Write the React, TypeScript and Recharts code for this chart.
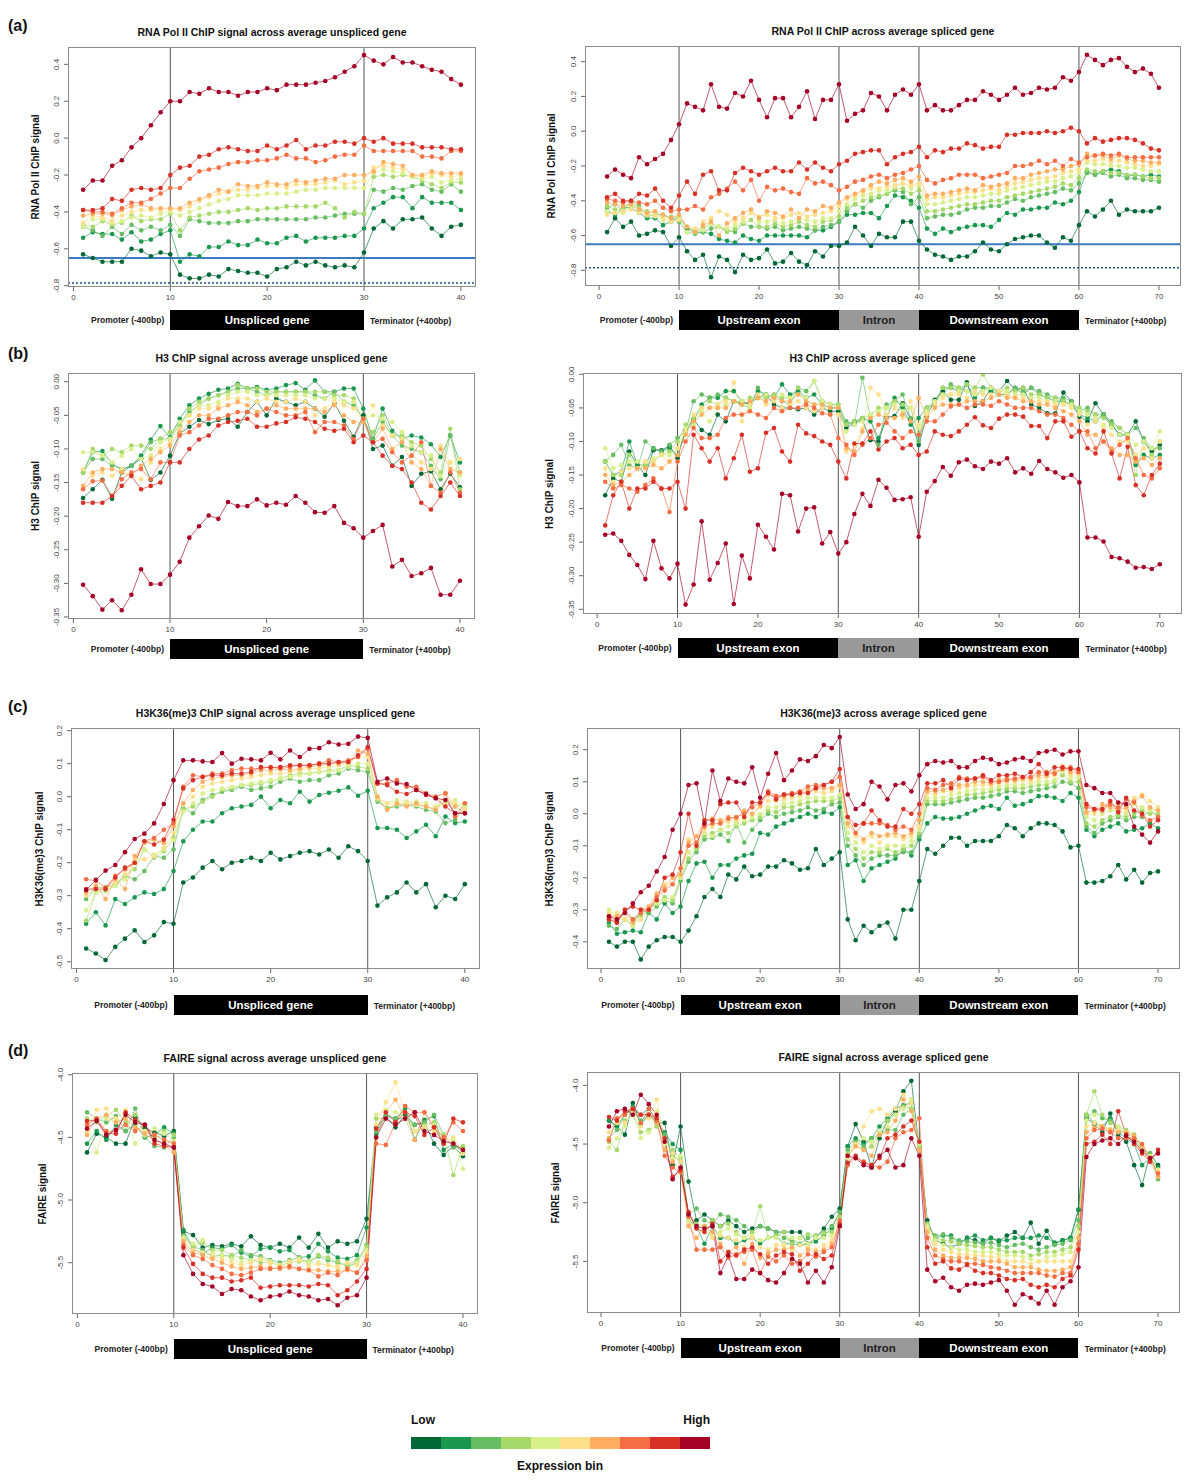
import { LineChart, Line, XAxis, YAxis, ReferenceLine } from "recharts";

// expression bins, low -> high
const binColors = ["#006837", "#1a9850", "#66bd63", "#a6d96a", "#d9ef8b", "#fee08b", "#fdae61", "#f46d43", "#d73027", "#a50026"];

const xTicks40 = [0, 10, 20, 30, 40];
const xTicks70 = [0, 10, 20, 30, 40, 50, 60, 70];
const polTicks = [-0.8, -0.6, -0.4, -0.2, 0, 0.2, 0.4];
const h3Ticks = [-0.35, -0.3, -0.25, -0.2, -0.15, -0.1, -0.05, 0];
const k36TicksU = [-0.5, -0.4, -0.3, -0.2, -0.1, 0, 0.1, 0.2];
const k36TicksS = [-0.4, -0.3, -0.2, -0.1, 0, 0.1, 0.2];
const faireTicks = [-5.5, -5.0, -4.5, -4.0];

// (a) RNA Pol II, unspliced (bins 1..10)
const polUnspliced: number[][] = [
  [-0.63,-0.65,-0.67,-0.67,-0.67,-0.60,-0.61,-0.64,-0.62,-0.63,-0.74,-0.76,-0.76,-0.74,-0.75,-0.71,-0.72,-0.73,-0.73,-0.75,-0.71,-0.70,-0.67,-0.69,-0.67,-0.69,-0.70,-0.69,-0.70,-0.62,-0.49,-0.45,-0.49,-0.44,-0.44,-0.43,-0.49,-0.53,-0.48,-0.47],
  [-0.54,-0.51,-0.52,-0.52,-0.55,-0.51,-0.56,-0.55,-0.52,-0.50,-0.67,-0.63,-0.64,-0.59,-0.59,-0.56,-0.58,-0.58,-0.55,-0.57,-0.57,-0.54,-0.53,-0.56,-0.54,-0.54,-0.54,-0.53,-0.53,-0.49,-0.38,-0.35,-0.32,-0.32,-0.38,-0.32,-0.35,-0.35,-0.35,-0.39],
  [-0.48,-0.50,-0.53,-0.48,-0.52,-0.47,-0.50,-0.48,-0.50,-0.47,-0.53,-0.44,-0.45,-0.46,-0.46,-0.46,-0.45,-0.45,-0.44,-0.44,-0.44,-0.44,-0.44,-0.44,-0.43,-0.43,-0.42,-0.41,-0.41,-0.41,-0.28,-0.29,-0.27,-0.28,-0.26,-0.25,-0.28,-0.29,-0.25,-0.29],
  [-0.47,-0.48,-0.45,-0.47,-0.46,-0.42,-0.45,-0.44,-0.44,-0.41,-0.50,-0.43,-0.42,-0.41,-0.40,-0.40,-0.39,-0.38,-0.39,-0.38,-0.38,-0.37,-0.37,-0.37,-0.37,-0.35,-0.38,-0.43,-0.40,-0.41,-0.21,-0.20,-0.21,-0.20,-0.21,-0.23,-0.25,-0.27,-0.24,-0.24],
  [-0.48,-0.44,-0.44,-0.46,-0.45,-0.43,-0.42,-0.43,-0.41,-0.40,-0.42,-0.40,-0.38,-0.36,-0.34,-0.33,-0.31,-0.31,-0.31,-0.30,-0.30,-0.30,-0.29,-0.28,-0.28,-0.27,-0.27,-0.27,-0.27,-0.27,-0.19,-0.17,-0.18,-0.19,-0.21,-0.22,-0.21,-0.24,-0.23,-0.22],
  [-0.46,-0.42,-0.43,-0.45,-0.42,-0.40,-0.39,-0.39,-0.39,-0.39,-0.39,-0.37,-0.34,-0.32,-0.30,-0.29,-0.28,-0.28,-0.27,-0.26,-0.26,-0.27,-0.25,-0.25,-0.25,-0.24,-0.23,-0.25,-0.24,-0.23,-0.16,-0.15,-0.16,-0.17,-0.20,-0.21,-0.19,-0.20,-0.21,-0.20],
  [-0.42,-0.41,-0.41,-0.42,-0.39,-0.37,-0.36,-0.38,-0.38,-0.38,-0.38,-0.35,-0.33,-0.31,-0.28,-0.29,-0.25,-0.26,-0.26,-0.24,-0.25,-0.25,-0.23,-0.24,-0.23,-0.22,-0.22,-0.20,-0.20,-0.20,-0.18,-0.13,-0.14,-0.15,-0.20,-0.20,-0.18,-0.19,-0.19,-0.19],
  [-0.39,-0.40,-0.40,-0.41,-0.38,-0.35,-0.35,-0.33,-0.30,-0.27,-0.27,-0.22,-0.18,-0.17,-0.16,-0.14,-0.13,-0.13,-0.12,-0.12,-0.11,-0.09,-0.11,-0.11,-0.13,-0.12,-0.10,-0.09,-0.09,-0.04,-0.07,-0.07,-0.07,-0.07,-0.07,-0.10,-0.10,-0.11,-0.07,-0.07],
  [-0.39,-0.39,-0.38,-0.33,-0.34,-0.28,-0.27,-0.28,-0.27,-0.20,-0.16,-0.15,-0.10,-0.09,-0.06,-0.05,-0.06,-0.07,-0.07,-0.04,-0.06,-0.04,-0.01,-0.06,-0.04,-0.04,-0.02,-0.02,-0.03,0.00,-0.02,0.00,-0.03,-0.03,-0.03,-0.05,-0.05,-0.05,-0.06,-0.06],
  [-0.28,-0.23,-0.23,-0.15,-0.12,-0.05,0.00,0.07,0.14,0.20,0.20,0.25,0.24,0.27,0.25,0.25,0.23,0.25,0.25,0.27,0.26,0.29,0.29,0.29,0.30,0.31,0.33,0.36,0.39,0.45,0.42,0.40,0.44,0.41,0.41,0.39,0.37,0.36,0.32,0.29],
];

// (a) RNA Pol II, spliced
const polSpliced: number[][] = [
  [-0.58,-0.50,-0.55,-0.52,-0.60,-0.59,-0.57,-0.58,-0.66,-0.61,-0.69,-0.74,-0.71,-0.84,-0.72,-0.74,-0.81,-0.71,-0.74,-0.73,-0.68,-0.76,-0.75,-0.70,-0.75,-0.77,-0.69,-0.72,-0.66,-0.66,-0.64,-0.55,-0.60,-0.66,-0.59,-0.61,-0.61,-0.52,-0.52,-0.63,-0.68,-0.71,-0.72,-0.74,-0.72,-0.72,-0.69,-0.64,-0.68,-0.69,-0.65,-0.62,-0.61,-0.60,-0.60,-0.64,-0.67,-0.61,-0.63,-0.54,-0.46,-0.49,-0.45,-0.40,-0.48,-0.45,-0.46,-0.46,-0.46,-0.44],
  [-0.46,-0.48,-0.44,-0.44,-0.47,-0.50,-0.50,-0.54,-0.52,-0.49,-0.56,-0.58,-0.58,-0.59,-0.62,-0.63,-0.64,-0.60,-0.62,-0.63,-0.60,-0.60,-0.60,-0.60,-0.60,-0.61,-0.57,-0.57,-0.55,-0.52,-0.48,-0.48,-0.47,-0.47,-0.50,-0.43,-0.37,-0.38,-0.40,-0.44,-0.56,-0.59,-0.56,-0.58,-0.56,-0.55,-0.54,-0.54,-0.55,-0.51,-0.47,-0.48,-0.45,-0.45,-0.44,-0.44,-0.41,-0.42,-0.40,-0.35,-0.23,-0.25,-0.23,-0.22,-0.23,-0.26,-0.25,-0.26,-0.25,-0.26],
  [-0.44,-0.42,-0.46,-0.40,-0.43,-0.49,-0.48,-0.48,-0.50,-0.52,-0.58,-0.59,-0.58,-0.56,-0.55,-0.57,-0.58,-0.53,-0.55,-0.55,-0.56,-0.55,-0.57,-0.56,-0.55,-0.56,-0.57,-0.55,-0.54,-0.52,-0.46,-0.42,-0.44,-0.40,-0.38,-0.36,-0.34,-0.35,-0.42,-0.38,-0.50,-0.49,-0.48,-0.48,-0.47,-0.45,-0.44,-0.44,-0.43,-0.43,-0.41,-0.39,-0.40,-0.38,-0.37,-0.36,-0.35,-0.33,-0.34,-0.30,-0.24,-0.25,-0.24,-0.26,-0.25,-0.27,-0.27,-0.28,-0.28,-0.29],
  [-0.43,-0.45,-0.45,-0.41,-0.44,-0.46,-0.47,-0.49,-0.49,-0.50,-0.55,-0.57,-0.56,-0.53,-0.55,-0.58,-0.56,-0.53,-0.51,-0.55,-0.55,-0.53,-0.55,-0.54,-0.52,-0.54,-0.55,-0.52,-0.51,-0.49,-0.44,-0.42,-0.40,-0.38,-0.37,-0.36,-0.33,-0.33,-0.36,-0.34,-0.46,-0.46,-0.45,-0.44,-0.43,-0.42,-0.42,-0.41,-0.40,-0.40,-0.38,-0.37,-0.36,-0.35,-0.34,-0.33,-0.32,-0.30,-0.31,-0.27,-0.22,-0.23,-0.23,-0.24,-0.24,-0.25,-0.25,-0.26,-0.27,-0.27],
  [-0.46,-0.47,-0.47,-0.43,-0.45,-0.48,-0.49,-0.51,-0.50,-0.49,-0.58,-0.58,-0.57,-0.53,-0.55,-0.56,-0.54,-0.52,-0.47,-0.52,-0.52,-0.51,-0.53,-0.52,-0.50,-0.51,-0.52,-0.50,-0.50,-0.46,-0.42,-0.39,-0.37,-0.36,-0.34,-0.34,-0.32,-0.30,-0.33,-0.31,-0.42,-0.42,-0.41,-0.40,-0.39,-0.38,-0.38,-0.37,-0.36,-0.36,-0.34,-0.33,-0.32,-0.31,-0.30,-0.29,-0.29,-0.27,-0.26,-0.24,-0.18,-0.19,-0.19,-0.20,-0.20,-0.21,-0.21,-0.22,-0.23,-0.23],
  [-0.48,-0.47,-0.46,-0.45,-0.47,-0.48,-0.48,-0.50,-0.52,-0.51,-0.55,-0.56,-0.52,-0.50,-0.46,-0.48,-0.52,-0.50,-0.47,-0.49,-0.48,-0.50,-0.50,-0.48,-0.47,-0.49,-0.48,-0.47,-0.46,-0.43,-0.39,-0.37,-0.35,-0.33,-0.33,-0.32,-0.31,-0.30,-0.31,-0.30,-0.39,-0.38,-0.38,-0.37,-0.36,-0.35,-0.35,-0.34,-0.33,-0.34,-0.32,-0.30,-0.29,-0.28,-0.27,-0.27,-0.26,-0.24,-0.23,-0.22,-0.17,-0.17,-0.16,-0.18,-0.17,-0.18,-0.19,-0.20,-0.20,-0.19],
  [-0.41,-0.42,-0.43,-0.42,-0.45,-0.47,-0.46,-0.48,-0.50,-0.48,-0.55,-0.58,-0.54,-0.52,-0.60,-0.53,-0.50,-0.47,-0.45,-0.50,-0.46,-0.47,-0.49,-0.45,-0.50,-0.45,-0.46,-0.43,-0.44,-0.41,-0.38,-0.36,-0.34,-0.31,-0.29,-0.30,-0.28,-0.27,-0.29,-0.26,-0.37,-0.36,-0.36,-0.35,-0.34,-0.33,-0.34,-0.31,-0.32,-0.31,-0.30,-0.27,-0.27,-0.25,-0.24,-0.23,-0.22,-0.22,-0.20,-0.19,-0.13,-0.14,-0.14,-0.16,-0.14,-0.16,-0.17,-0.17,-0.18,-0.18],
  [-0.39,-0.40,-0.41,-0.40,-0.41,-0.42,-0.40,-0.44,-0.46,-0.45,-0.45,-0.43,-0.45,-0.38,-0.36,-0.33,-0.29,-0.34,-0.28,-0.40,-0.32,-0.34,-0.33,-0.35,-0.36,-0.27,-0.30,-0.29,-0.31,-0.34,-0.32,-0.29,-0.28,-0.26,-0.25,-0.27,-0.25,-0.24,-0.22,-0.20,-0.28,-0.30,-0.28,-0.27,-0.25,-0.25,-0.25,-0.27,-0.26,-0.25,-0.24,-0.20,-0.20,-0.19,-0.17,-0.19,-0.17,-0.20,-0.16,-0.18,-0.15,-0.14,-0.13,-0.14,-0.13,-0.15,-0.15,-0.15,-0.15,-0.15],
  [-0.38,-0.36,-0.40,-0.40,-0.36,-0.37,-0.33,-0.40,-0.44,-0.37,-0.29,-0.36,-0.25,-0.23,-0.34,-0.34,-0.24,-0.21,-0.23,-0.25,-0.23,-0.21,-0.23,-0.23,-0.18,-0.22,-0.18,-0.21,-0.23,-0.19,-0.17,-0.13,-0.12,-0.11,-0.11,-0.19,-0.15,-0.13,-0.12,-0.09,-0.15,-0.11,-0.12,-0.10,-0.10,-0.07,-0.08,-0.10,-0.09,-0.09,-0.02,-0.02,-0.01,-0.01,-0.01,0.00,-0.01,0.00,0.02,0.00,-0.07,-0.04,-0.06,-0.05,-0.04,-0.04,-0.05,-0.07,-0.10,-0.11],
  [-0.26,-0.22,-0.25,-0.27,-0.15,-0.19,-0.16,-0.13,-0.05,0.04,0.16,0.14,0.12,0.27,0.14,0.13,0.22,0.20,0.29,0.18,0.08,0.19,0.19,0.08,0.14,0.23,0.07,0.18,0.18,0.27,0.06,0.10,0.12,0.22,0.20,0.12,0.21,0.24,0.21,0.27,0.12,0.15,0.12,0.12,0.15,0.18,0.18,0.23,0.21,0.18,0.21,0.25,0.21,0.22,0.25,0.24,0.25,0.31,0.29,0.34,0.44,0.41,0.38,0.41,0.42,0.37,0.34,0.36,0.33,0.25],
];

// (b) H3, unspliced
const h3Unspliced: number[][] = [
  [-0.173,-0.16,-0.146,-0.174,-0.135,-0.125,-0.114,-0.146,-0.135,-0.11,-0.077,-0.067,-0.057,-0.063,-0.057,-0.055,-0.067,-0.045,-0.03,-0.05,-0.025,-0.03,-0.035,-0.03,-0.04,-0.052,-0.032,-0.058,-0.082,-0.05,-0.1,-0.095,-0.125,-0.112,-0.155,-0.137,-0.133,-0.16,-0.137,-0.157],
  [-0.135,-0.105,-0.103,-0.122,-0.13,-0.125,-0.11,-0.086,-0.066,-0.083,-0.055,-0.035,-0.025,-0.018,-0.012,-0.01,-0.003,-0.01,-0.008,-0.012,-0.01,-0.005,-0.002,-0.012,0.002,-0.015,-0.015,-0.01,-0.01,-0.04,-0.085,-0.04,-0.073,-0.085,-0.08,-0.083,-0.093,-0.112,-0.08,-0.12],
  [-0.135,-0.115,-0.115,-0.125,-0.13,-0.125,-0.115,-0.09,-0.085,-0.085,-0.065,-0.045,-0.035,-0.025,-0.02,-0.015,-0.01,-0.01,-0.015,-0.02,-0.015,-0.015,-0.015,-0.015,-0.02,-0.025,-0.015,-0.03,-0.035,-0.055,-0.085,-0.06,-0.08,-0.095,-0.1,-0.105,-0.125,-0.145,-0.08,-0.135],
  [-0.135,-0.1,-0.11,-0.1,-0.105,-0.095,-0.095,-0.1,-0.085,-0.075,-0.065,-0.04,-0.03,-0.025,-0.02,-0.015,-0.005,-0.01,-0.01,-0.015,-0.015,-0.015,-0.015,-0.015,-0.015,-0.015,-0.02,-0.02,-0.025,-0.06,-0.075,-0.05,-0.08,-0.08,-0.09,-0.095,-0.115,-0.135,-0.07,-0.16],
  [-0.105,-0.105,-0.11,-0.12,-0.11,-0.1,-0.115,-0.11,-0.09,-0.085,-0.06,-0.05,-0.035,-0.035,-0.03,-0.02,-0.015,-0.015,-0.02,-0.02,-0.02,-0.02,-0.02,-0.02,-0.025,-0.025,-0.025,-0.03,-0.03,-0.055,-0.05,-0.055,-0.06,-0.075,-0.095,-0.105,-0.11,-0.14,-0.12,-0.14],
  [-0.13,-0.14,-0.135,-0.14,-0.13,-0.14,-0.145,-0.12,-0.1,-0.09,-0.07,-0.05,-0.04,-0.04,-0.035,-0.025,-0.025,-0.025,-0.03,-0.025,-0.03,-0.03,-0.025,-0.03,-0.05,-0.04,-0.03,-0.035,-0.04,-0.06,-0.035,-0.065,-0.08,-0.085,-0.11,-0.12,-0.13,-0.095,-0.12,-0.115],
  [-0.155,-0.135,-0.13,-0.13,-0.135,-0.14,-0.125,-0.115,-0.105,-0.095,-0.075,-0.06,-0.05,-0.05,-0.04,-0.035,-0.03,-0.035,-0.045,-0.04,-0.035,-0.04,-0.04,-0.04,-0.04,-0.045,-0.035,-0.05,-0.06,-0.06,-0.09,-0.07,-0.1,-0.09,-0.12,-0.13,-0.155,-0.1,-0.13,-0.135],
  [-0.16,-0.148,-0.147,-0.17,-0.145,-0.135,-0.13,-0.145,-0.12,-0.12,-0.08,-0.075,-0.065,-0.055,-0.055,-0.05,-0.045,-0.045,-0.05,-0.04,-0.045,-0.05,-0.05,-0.045,-0.075,-0.06,-0.06,-0.065,-0.085,-0.055,-0.09,-0.085,-0.105,-0.12,-0.11,-0.09,-0.155,-0.165,-0.135,-0.165],
  [-0.18,-0.18,-0.18,-0.17,-0.155,-0.14,-0.16,-0.155,-0.15,-0.12,-0.12,-0.1,-0.086,-0.08,-0.065,-0.06,-0.058,-0.055,-0.067,-0.067,-0.062,-0.06,-0.053,-0.055,-0.06,-0.07,-0.073,-0.07,-0.09,-0.08,-0.09,-0.11,-0.125,-0.13,-0.15,-0.18,-0.19,-0.17,-0.15,-0.17],
  [-0.302,-0.319,-0.339,-0.325,-0.34,-0.317,-0.279,-0.301,-0.301,-0.287,-0.268,-0.232,-0.215,-0.199,-0.204,-0.179,-0.185,-0.185,-0.175,-0.184,-0.18,-0.183,-0.17,-0.18,-0.194,-0.195,-0.185,-0.21,-0.218,-0.232,-0.222,-0.213,-0.275,-0.265,-0.289,-0.285,-0.277,-0.317,-0.317,-0.296],
];

// (b) H3, spliced
const h3Spliced: number[][] = [
  [-0.18,-0.155,-0.16,-0.115,-0.135,-0.15,-0.113,-0.113,-0.107,-0.125,-0.083,-0.067,-0.083,-0.09,-0.06,-0.07,-0.04,-0.043,-0.043,-0.035,-0.03,-0.045,-0.05,-0.05,-0.052,-0.05,-0.06,-0.05,-0.055,-0.055,-0.08,-0.072,-0.068,-0.098,-0.1,-0.064,-0.062,-0.043,-0.067,-0.105,-0.063,-0.038,-0.025,-0.038,-0.038,-0.012,-0.047,-0.04,-0.02,-0.025,-0.01,-0.023,-0.02,-0.045,-0.05,-0.058,-0.058,-0.027,-0.04,-0.063,-0.07,-0.043,-0.06,-0.075,-0.09,-0.09,-0.07,-0.1,-0.115,-0.105],
  [-0.13,-0.15,-0.145,-0.1,-0.135,-0.135,-0.11,-0.115,-0.11,-0.12,-0.085,-0.07,-0.045,-0.035,-0.035,-0.025,-0.025,-0.04,-0.045,-0.025,-0.03,-0.035,-0.015,-0.03,-0.025,-0.035,-0.03,-0.045,-0.05,-0.05,-0.075,-0.07,-0.065,-0.07,-0.095,-0.065,-0.035,-0.05,-0.075,-0.065,-0.05,-0.045,-0.02,-0.02,-0.025,-0.015,-0.035,-0.02,-0.025,-0.03,-0.03,-0.02,-0.03,-0.02,-0.03,-0.035,-0.04,-0.04,-0.045,-0.06,-0.065,-0.07,-0.06,-0.075,-0.09,-0.09,-0.135,-0.12,-0.125,-0.12],
  [-0.13,-0.12,-0.105,-0.135,-0.14,-0.1,-0.11,-0.115,-0.105,-0.095,-0.085,-0.04,-0.03,-0.035,-0.03,-0.035,-0.04,-0.045,-0.05,-0.02,-0.035,-0.03,-0.04,-0.045,-0.02,-0.025,-0.01,-0.04,-0.045,-0.045,-0.07,-0.075,-0.005,-0.065,-0.105,-0.045,-0.04,-0.03,-0.065,-0.1,-0.05,-0.04,-0.03,-0.015,-0.02,-0.025,-0.02,-0.02,-0.02,-0.03,-0.03,-0.02,-0.025,-0.02,-0.025,-0.03,-0.035,-0.035,-0.04,-0.055,-0.05,-0.06,-0.06,-0.07,-0.08,-0.09,-0.08,-0.095,-0.11,-0.11],
  [-0.13,-0.15,-0.15,-0.12,-0.14,-0.135,-0.13,-0.12,-0.115,-0.1,-0.075,-0.065,-0.05,-0.04,-0.045,-0.035,-0.04,-0.04,-0.035,-0.035,-0.035,-0.03,-0.035,-0.035,-0.02,-0.04,-0.045,-0.04,-0.045,-0.045,-0.075,-0.07,-0.065,-0.06,-0.05,-0.05,-0.04,-0.045,-0.05,-0.09,-0.05,-0.04,-0.02,-0.02,-0.02,-0.015,-0.02,0.0,-0.02,-0.025,-0.02,-0.025,-0.02,-0.03,-0.03,-0.035,-0.035,-0.04,-0.045,-0.05,-0.055,-0.06,-0.065,-0.075,-0.08,-0.09,-0.15,-0.1,-0.12,-0.1],
  [-0.11,-0.14,-0.135,-0.13,-0.13,-0.13,-0.125,-0.12,-0.12,-0.11,-0.08,-0.075,-0.055,-0.07,-0.05,-0.045,-0.04,-0.04,-0.05,-0.035,-0.03,-0.035,-0.03,-0.035,-0.03,-0.035,-0.01,-0.04,-0.045,-0.05,-0.085,-0.075,-0.07,-0.06,-0.055,-0.05,-0.045,-0.055,-0.05,-0.08,-0.055,-0.04,-0.03,-0.03,-0.025,-0.025,-0.03,-0.025,-0.02,-0.025,-0.025,-0.03,-0.03,-0.035,-0.035,-0.04,-0.04,-0.045,-0.045,-0.055,-0.06,-0.065,-0.075,-0.08,-0.09,-0.09,-0.105,-0.1,-0.11,-0.085],
  [-0.14,-0.16,-0.145,-0.14,-0.14,-0.13,-0.13,-0.12,-0.13,-0.11,-0.085,-0.06,-0.05,-0.05,-0.045,-0.04,-0.012,-0.07,-0.045,-0.03,-0.045,-0.04,-0.05,-0.045,-0.04,-0.05,-0.055,-0.05,-0.06,-0.06,-0.115,-0.105,-0.08,-0.02,-0.03,-0.06,-0.05,-0.065,-0.04,-0.075,-0.06,-0.045,-0.035,-0.03,-0.03,-0.035,-0.025,-0.03,-0.03,-0.025,-0.03,-0.035,-0.035,-0.04,-0.04,-0.04,-0.045,-0.045,-0.05,-0.06,-0.075,-0.07,-0.08,-0.09,-0.1,-0.1,-0.12,-0.11,-0.125,-0.1],
  [-0.15,-0.165,-0.16,-0.15,-0.14,-0.14,-0.135,-0.14,-0.13,-0.12,-0.09,-0.07,-0.06,-0.05,-0.05,-0.05,-0.04,-0.045,-0.04,-0.035,-0.04,-0.035,-0.04,-0.04,-0.03,-0.04,-0.045,-0.045,-0.05,-0.05,-0.11,-0.115,-0.085,-0.065,-0.06,-0.065,-0.065,-0.06,-0.07,-0.035,-0.065,-0.05,-0.045,-0.045,-0.045,-0.04,-0.04,-0.04,-0.035,-0.03,-0.035,-0.035,-0.04,-0.04,-0.045,-0.045,-0.05,-0.055,-0.06,-0.07,-0.09,-0.09,-0.1,-0.11,-0.12,-0.12,-0.13,-0.125,-0.135,-0.125],
  [-0.16,-0.17,-0.165,-0.17,-0.175,-0.165,-0.155,-0.17,-0.205,-0.13,-0.1,-0.08,-0.095,-0.095,-0.09,-0.065,-0.06,-0.06,-0.055,-0.06,-0.065,-0.05,-0.055,-0.05,-0.05,-0.045,-0.05,-0.058,-0.06,-0.095,-0.105,-0.12,-0.105,-0.095,-0.075,-0.072,-0.085,-0.095,-0.085,-0.09,-0.07,-0.07,-0.06,-0.048,-0.045,-0.05,-0.045,-0.045,-0.047,-0.04,-0.045,-0.05,-0.05,-0.05,-0.055,-0.06,-0.06,-0.065,-0.075,-0.085,-0.085,-0.11,-0.1,-0.115,-0.105,-0.095,-0.125,-0.15,-0.155,-0.14],
  [-0.225,-0.18,-0.16,-0.2,-0.17,-0.17,-0.16,-0.17,-0.17,-0.16,-0.2,-0.09,-0.11,-0.13,-0.11,-0.155,-0.125,-0.09,-0.145,-0.14,-0.087,-0.08,-0.115,-0.13,-0.075,-0.088,-0.092,-0.1,-0.105,-0.13,-0.155,-0.103,-0.103,-0.085,-0.112,-0.1,-0.095,-0.11,-0.105,-0.12,-0.115,-0.085,-0.09,-0.092,-0.085,-0.075,-0.064,-0.076,-0.08,-0.066,-0.06,-0.06,-0.063,-0.077,-0.077,-0.095,-0.07,-0.07,-0.093,-0.085,-0.11,-0.118,-0.085,-0.118,-0.155,-0.108,-0.165,-0.18,-0.15,-0.133],
  [-0.239,-0.237,-0.248,-0.269,-0.284,-0.305,-0.248,-0.289,-0.304,-0.282,-0.343,-0.313,-0.219,-0.306,-0.281,-0.252,-0.342,-0.27,-0.304,-0.224,-0.242,-0.261,-0.178,-0.18,-0.234,-0.2,-0.198,-0.252,-0.235,-0.267,-0.25,-0.208,-0.178,-0.196,-0.157,-0.169,-0.187,-0.186,-0.183,-0.242,-0.175,-0.159,-0.138,-0.151,-0.131,-0.127,-0.137,-0.141,-0.13,-0.133,-0.125,-0.146,-0.14,-0.148,-0.129,-0.141,-0.146,-0.154,-0.15,-0.161,-0.243,-0.243,-0.249,-0.272,-0.274,-0.279,-0.288,-0.287,-0.29,-0.283],
];

// (c) H3K36(me)3, unspliced
const k36Unspliced: number[][] = [
  [-0.46,-0.475,-0.495,-0.455,-0.43,-0.405,-0.44,-0.42,-0.38,-0.385,-0.26,-0.245,-0.215,-0.195,-0.22,-0.2,-0.195,-0.185,-0.195,-0.17,-0.19,-0.18,-0.17,-0.165,-0.175,-0.16,-0.185,-0.15,-0.165,-0.195,-0.33,-0.305,-0.29,-0.26,-0.29,-0.265,-0.335,-0.3,-0.31,-0.265],
  [-0.385,-0.35,-0.39,-0.31,-0.325,-0.305,-0.29,-0.295,-0.28,-0.225,-0.135,-0.1,-0.075,-0.075,-0.05,-0.035,-0.03,-0.025,0.0,-0.035,-0.01,-0.02,0.015,-0.015,0.005,0.012,0.018,0.028,0.003,0.018,-0.095,-0.095,-0.1,-0.125,-0.105,-0.085,-0.12,-0.06,-0.08,-0.075],
  [-0.31,-0.275,-0.275,-0.265,-0.24,-0.25,-0.225,-0.18,-0.185,-0.16,-0.035,-0.05,-0.01,0.005,0.015,0.02,0.03,0.02,0.025,0.03,0.045,0.055,0.045,0.05,0.05,0.065,0.07,0.085,0.08,0.075,-0.015,-0.035,-0.03,-0.025,-0.03,-0.04,-0.045,-0.08,-0.07,-0.03],
  [-0.375,-0.29,-0.285,-0.27,-0.24,-0.22,-0.16,-0.185,-0.165,-0.125,-0.04,-0.03,-0.015,0.0,0.02,0.025,0.035,0.035,0.04,0.045,0.055,0.065,0.07,0.07,0.075,0.08,0.08,0.095,0.09,0.085,-0.01,-0.035,-0.025,-0.02,-0.025,-0.03,-0.04,-0.01,-0.03,-0.02],
  [-0.345,-0.29,-0.28,-0.27,-0.25,-0.2,-0.16,-0.175,-0.16,-0.13,-0.045,-0.02,0.01,0.02,0.025,0.03,0.035,0.04,0.045,0.05,0.055,0.06,0.065,0.07,0.075,0.075,0.08,0.09,0.1,0.1,0.0,-0.02,-0.01,-0.015,-0.015,-0.02,-0.03,-0.02,-0.01,-0.03],
  [-0.3,-0.27,-0.28,-0.26,-0.235,-0.19,-0.19,-0.18,-0.155,-0.11,-0.025,0.0,0.03,0.04,0.045,0.05,0.055,0.06,0.065,0.07,0.07,0.075,0.08,0.085,0.085,0.09,0.095,0.1,0.12,0.12,-0.005,-0.02,-0.02,-0.02,-0.025,-0.03,-0.035,-0.02,-0.02,-0.04],
  [-0.29,-0.27,-0.31,-0.25,-0.28,-0.18,-0.14,-0.13,-0.14,-0.09,-0.02,0.02,0.045,0.055,0.06,0.065,0.065,0.07,0.08,0.08,0.085,0.08,0.085,0.09,0.095,0.1,0.1,0.105,0.14,0.13,0.0,-0.04,-0.02,-0.03,-0.02,-0.03,-0.04,0.01,-0.03,-0.05],
  [-0.25,-0.255,-0.275,-0.24,-0.22,-0.2,-0.135,-0.125,-0.1,-0.08,0.03,0.065,0.06,0.07,0.07,0.08,0.085,0.085,0.085,0.09,0.085,0.09,0.095,0.095,0.1,0.11,0.105,0.11,0.12,0.145,0.04,0.04,0.05,0.03,0.03,0.01,0.0,0.01,-0.06,-0.02],
  [-0.28,-0.28,-0.28,-0.245,-0.215,-0.2,-0.135,-0.145,-0.13,-0.07,0.025,0.05,0.06,0.065,0.065,0.07,0.07,0.075,0.09,0.088,0.09,0.095,0.095,0.095,0.1,0.1,0.105,0.105,0.125,0.15,0.04,0.035,0.015,0.008,0.02,0.005,-0.005,-0.03,-0.05,-0.05],
  [-0.283,-0.252,-0.224,-0.207,-0.168,-0.128,-0.112,-0.081,-0.022,0.05,0.11,0.11,0.107,0.105,0.132,0.1,0.115,0.113,0.11,0.133,0.113,0.14,0.12,0.145,0.147,0.165,0.158,0.16,0.182,0.178,0.045,0.055,0.04,0.038,0.02,0.008,-0.005,-0.01,-0.05,-0.05],
];

// (c) H3K36(me)3, spliced
const k36Spliced: number[][] = [
  [-0.4,-0.415,-0.4,-0.4,-0.455,-0.415,-0.395,-0.385,-0.385,-0.4,-0.365,-0.32,-0.26,-0.235,-0.26,-0.19,-0.205,-0.165,-0.195,-0.19,-0.165,-0.165,-0.145,-0.155,-0.175,-0.17,-0.11,-0.16,-0.14,-0.12,-0.33,-0.395,-0.35,-0.37,-0.35,-0.34,-0.39,-0.3,-0.3,-0.21,-0.11,-0.125,-0.1,-0.075,-0.075,-0.1,-0.085,-0.085,-0.085,-0.07,-0.035,-0.045,-0.07,-0.045,-0.03,-0.03,-0.035,-0.055,-0.105,-0.1,-0.215,-0.215,-0.21,-0.195,-0.16,-0.205,-0.175,-0.215,-0.185,-0.18],
  [-0.34,-0.375,-0.37,-0.365,-0.37,-0.31,-0.33,-0.28,-0.31,-0.29,-0.21,-0.155,-0.15,-0.2,-0.16,-0.16,-0.14,-0.13,-0.125,-0.06,-0.065,-0.04,-0.03,-0.02,-0.01,0.0,-0.01,0.005,0.0,0.02,-0.16,-0.145,-0.21,-0.17,-0.16,-0.15,-0.14,-0.11,-0.13,-0.08,-0.03,-0.01,-0.015,-0.015,-0.01,0.0,0.01,0.02,0.025,0.015,0.05,0.025,0.03,0.04,0.055,0.055,0.05,0.04,0.065,0.05,-0.05,-0.07,-0.05,-0.04,-0.03,-0.055,-0.05,-0.045,-0.03,-0.045],
  [-0.35,-0.36,-0.33,-0.35,-0.3,-0.31,-0.29,-0.27,-0.28,-0.21,-0.15,-0.12,-0.08,-0.075,-0.065,-0.085,-0.03,-0.09,-0.05,-0.02,0.0,-0.01,0.0,0.005,0.01,0.02,0.01,0.015,0.03,0.035,-0.1,-0.13,-0.16,-0.14,-0.13,-0.13,-0.13,-0.12,-0.12,-0.07,0.03,0.03,0.03,0.035,0.04,0.045,0.05,0.05,0.055,0.06,0.07,0.07,0.065,0.07,0.075,0.08,0.085,0.1,0.095,0.08,-0.04,-0.06,-0.03,-0.02,-0.01,-0.02,-0.01,-0.01,0.01,-0.01],
  [-0.33,-0.34,-0.31,-0.33,-0.32,-0.3,-0.28,-0.26,-0.27,-0.2,-0.14,-0.11,-0.07,-0.06,-0.05,-0.06,-0.04,-0.03,-0.02,-0.01,0.01,0.005,0.02,0.02,0.03,0.035,0.04,0.04,0.04,0.05,-0.08,-0.11,-0.14,-0.12,-0.12,-0.11,-0.12,-0.11,-0.1,-0.06,0.04,0.04,0.04,0.045,0.05,0.06,0.06,0.065,0.07,0.075,0.08,0.08,0.08,0.085,0.09,0.09,0.1,0.12,0.1,0.1,-0.03,-0.04,-0.02,-0.01,-0.005,-0.01,0.0,0.01,0.0,0.0],
  [-0.3,-0.33,-0.33,-0.35,-0.33,-0.3,-0.28,-0.27,-0.26,-0.2,-0.12,-0.1,-0.06,-0.07,-0.05,-0.04,-0.03,-0.02,-0.01,0.0,0.02,0.02,0.03,0.035,0.04,0.05,0.05,0.05,0.05,0.06,-0.06,-0.09,-0.12,-0.1,-0.11,-0.1,-0.1,-0.1,-0.085,-0.05,0.05,0.05,0.05,0.06,0.065,0.07,0.075,0.075,0.08,0.085,0.09,0.09,0.09,0.095,0.1,0.1,0.105,0.13,0.11,0.115,-0.01,-0.02,0.0,0.01,0.01,0.0,0.03,0.02,0.01,0.01],
  [-0.31,-0.31,-0.33,-0.34,-0.33,-0.3,-0.25,-0.22,-0.22,-0.17,-0.08,-0.09,-0.05,-0.04,-0.03,-0.025,-0.02,-0.01,0.0,0.02,0.04,0.04,0.045,0.05,0.055,0.065,0.07,0.065,0.07,0.085,-0.04,-0.07,-0.09,-0.07,-0.09,-0.07,-0.07,-0.08,-0.07,-0.04,0.065,0.06,0.07,0.07,0.08,0.085,0.09,0.09,0.09,0.095,0.1,0.1,0.105,0.1,0.11,0.115,0.12,0.15,0.12,0.125,0.0,0.0,0.02,0.03,0.03,0.01,0.05,0.06,0.04,0.02],
  [-0.32,-0.32,-0.31,-0.34,-0.3,-0.29,-0.25,-0.23,-0.2,-0.19,-0.09,-0.07,-0.02,-0.015,-0.02,-0.01,-0.015,0.01,0.0,0.025,0.06,0.055,0.055,0.06,0.065,0.075,0.08,0.08,0.08,0.09,-0.03,-0.06,-0.08,-0.06,-0.07,-0.065,-0.06,-0.07,-0.06,-0.02,0.07,0.07,0.075,0.085,0.09,0.09,0.1,0.1,0.095,0.105,0.11,0.105,0.11,0.11,0.12,0.12,0.13,0.145,0.13,0.13,0.005,0.01,0.03,0.02,0.01,0.02,0.04,0.055,0.02,0.01],
  [-0.32,-0.34,-0.3,-0.33,-0.31,-0.3,-0.26,-0.24,-0.22,-0.17,-0.1,-0.09,-0.04,-0.03,-0.03,-0.015,-0.01,0.0,0.02,0.035,0.07,0.055,0.06,0.065,0.07,0.085,0.09,0.09,0.1,0.115,-0.01,-0.06,-0.03,-0.03,-0.03,-0.035,-0.05,-0.04,-0.05,0.0,0.08,0.075,0.09,0.095,0.115,0.11,0.11,0.115,0.1,0.1,0.105,0.11,0.115,0.115,0.13,0.13,0.125,0.14,0.145,0.13,0.02,0.015,0.01,0.03,0.02,0.045,0.035,-0.005,-0.02,-0.01],
  [-0.33,-0.34,-0.3,-0.29,-0.3,-0.3,-0.27,-0.2,-0.19,-0.12,0.0,-0.1,-0.02,-0.02,0.03,0.035,0.035,-0.01,0.035,0.035,0.065,0.045,0.06,0.06,0.065,0.065,0.08,0.09,0.1,0.14,-0.01,-0.035,-0.03,0.01,-0.02,-0.04,-0.04,0.015,0.0,0.03,0.095,0.095,0.105,0.08,0.11,0.105,0.11,0.12,0.105,0.12,0.12,0.125,0.115,0.13,0.155,0.125,0.145,0.145,0.14,0.14,0.03,0.015,0.015,0.04,0.005,0.05,0.01,0.0,-0.04,-0.02],
  [-0.32,-0.33,-0.31,-0.28,-0.245,-0.225,-0.18,-0.135,-0.05,0.0,0.09,0.095,-0.03,0.135,0.04,0.11,0.1,0.095,0.145,0.05,0.125,0.19,0.105,0.135,0.17,0.165,0.18,0.215,0.205,0.24,0.06,0.015,0.03,0.1,0.085,0.045,0.09,0.095,0.07,0.12,0.155,0.165,0.16,0.165,0.145,0.145,0.165,0.175,0.17,0.155,0.16,0.17,0.175,0.165,0.19,0.195,0.2,0.185,0.195,0.195,0.09,0.08,0.065,0.065,0.035,0.03,-0.04,-0.065,-0.09,-0.055],
];

// (d) FAIRE, unspliced
const faireUnspliced: number[][] = [
  [-4.62,-4.47,-4.5,-4.55,-4.55,-4.34,-4.43,-4.46,-4.49,-4.45,-5.25,-5.28,-5.38,-5.36,-5.37,-5.35,-5.37,-5.29,-5.36,-5.38,-5.35,-5.38,-5.3,-5.38,-5.27,-5.38,-5.33,-5.35,-5.33,-5.15,-4.42,-4.34,-4.42,-4.32,-4.4,-4.38,-4.55,-4.64,-4.57,-4.65],
  [-4.55,-4.45,-4.52,-4.4,-4.45,-4.4,-4.5,-4.48,-4.42,-4.47,-5.24,-5.39,-5.43,-5.38,-5.39,-5.36,-5.42,-5.45,-5.39,-5.38,-5.41,-5.4,-5.46,-5.45,-5.35,-5.41,-5.46,-5.47,-5.44,-5.22,-4.48,-4.32,-4.35,-4.27,-4.52,-4.36,-4.33,-4.6,-4.55,-4.62],
  [-4.3,-4.35,-4.38,-4.33,-4.45,-4.27,-4.5,-4.57,-4.58,-4.5,-5.28,-5.37,-5.4,-5.45,-5.44,-5.45,-5.4,-5.44,-5.45,-5.48,-5.5,-5.48,-5.46,-5.5,-5.45,-5.48,-5.5,-5.53,-5.5,-5.36,-4.45,-4.33,-4.35,-4.35,-4.4,-4.38,-4.32,-4.48,-4.58,-4.58],
  [-4.35,-4.38,-4.33,-4.28,-4.38,-4.32,-4.45,-4.5,-4.45,-4.48,-5.3,-5.37,-5.34,-5.4,-5.4,-5.44,-5.46,-5.48,-5.5,-5.5,-5.52,-5.5,-5.49,-5.49,-5.44,-5.46,-5.49,-5.52,-5.48,-5.37,-4.35,-4.35,-4.4,-4.25,-4.45,-4.4,-4.38,-4.48,-4.8,-4.57],
  [-4.4,-4.62,-4.35,-4.38,-4.33,-4.55,-4.48,-4.43,-4.47,-4.53,-5.3,-5.35,-5.32,-5.42,-5.44,-5.47,-5.5,-5.48,-5.47,-5.49,-5.53,-5.51,-5.47,-5.5,-5.5,-5.52,-5.54,-5.55,-5.5,-5.4,-4.32,-4.28,-4.3,-4.35,-4.45,-4.42,-4.4,-4.55,-4.52,-4.75],
  [-4.45,-4.28,-4.27,-4.35,-4.28,-4.42,-4.45,-4.48,-4.52,-4.55,-5.32,-5.4,-5.42,-5.45,-5.47,-5.5,-5.52,-5.5,-5.47,-5.5,-5.52,-5.49,-5.48,-5.53,-5.51,-5.52,-5.53,-5.5,-5.52,-5.42,-4.4,-4.22,-4.06,-4.3,-4.45,-4.42,-4.45,-4.52,-4.5,-4.63],
  [-4.48,-4.35,-4.32,-4.38,-4.35,-4.42,-4.47,-4.52,-4.56,-4.62,-5.33,-5.42,-5.44,-5.47,-5.5,-5.53,-5.55,-5.54,-5.53,-5.54,-5.55,-5.54,-5.55,-5.56,-5.56,-5.57,-5.57,-5.56,-5.58,-5.45,-4.5,-4.3,-4.2,-4.35,-4.52,-4.3,-4.42,-4.5,-4.55,-4.6],
  [-4.4,-4.35,-4.45,-4.45,-4.4,-4.45,-4.4,-4.48,-4.52,-4.55,-5.36,-5.44,-5.47,-5.52,-5.55,-5.59,-5.6,-5.58,-5.55,-5.55,-5.54,-5.53,-5.55,-5.56,-5.61,-5.58,-5.6,-5.55,-5.58,-5.48,-4.55,-4.56,-4.38,-4.25,-4.3,-4.3,-4.42,-4.5,-4.38,-4.45],
  [-4.37,-4.36,-4.47,-4.47,-4.3,-4.36,-4.4,-4.55,-4.57,-4.58,-5.38,-5.51,-5.59,-5.62,-5.62,-5.65,-5.64,-5.62,-5.7,-5.69,-5.68,-5.68,-5.68,-5.69,-5.67,-5.68,-5.76,-5.72,-5.65,-5.55,-4.43,-4.3,-4.38,-4.3,-4.33,-4.48,-4.42,-4.55,-4.35,-4.38],
  [-4.43,-4.37,-4.48,-4.44,-4.32,-4.38,-4.4,-4.52,-4.55,-4.58,-5.44,-5.59,-5.67,-5.69,-5.75,-5.71,-5.72,-5.77,-5.8,-5.77,-5.76,-5.73,-5.76,-5.77,-5.8,-5.79,-5.84,-5.78,-5.76,-5.62,-4.5,-4.35,-4.4,-4.35,-4.3,-4.45,-4.48,-4.53,-4.55,-4.6],
];

// (d) FAIRE, spliced
const faireSpliced: number[][] = [
  [-4.3,-4.35,-4.42,-4.15,-4.33,-4.25,-4.32,-4.32,-4.68,-4.35,-4.82,-5.15,-5.1,-5.15,-5.2,-5.15,-5.2,-5.25,-5.22,-5.2,-5.22,-5.25,-5.25,-5.25,-5.25,-5.35,-5.3,-5.22,-5.12,-5.05,-4.52,-4.33,-4.48,-4.7,-4.45,-4.3,-4.22,-4.05,-3.96,-4.55,-5.15,-5.32,-5.35,-5.38,-5.35,-5.3,-5.32,-5.35,-5.3,-5.33,-5.28,-5.25,-5.3,-5.17,-5.35,-5.24,-5.35,-5.32,-5.3,-5.06,-4.28,-4.33,-4.4,-4.24,-4.42,-4.48,-4.68,-4.85,-4.58,-4.68],
  [-4.3,-4.35,-4.25,-4.18,-4.25,-4.2,-4.3,-4.4,-4.5,-4.55,-5.15,-5.2,-5.35,-5.2,-5.3,-5.3,-5.35,-5.32,-5.3,-5.35,-5.3,-5.28,-5.35,-5.35,-5.36,-5.35,-5.33,-5.28,-5.22,-5.08,-4.52,-4.45,-4.5,-4.45,-4.35,-4.28,-4.2,-4.17,-4.15,-4.52,-5.18,-5.3,-5.28,-5.28,-5.35,-5.3,-5.28,-5.32,-5.3,-5.32,-5.32,-5.3,-5.3,-5.3,-5.28,-5.3,-5.34,-5.32,-5.3,-5.06,-4.25,-4.32,-4.35,-4.28,-4.4,-4.45,-4.5,-4.68,-4.62,-4.7],
  [-4.45,-4.38,-4.25,-4.2,-4.3,-4.25,-4.3,-4.42,-4.6,-4.65,-5.1,-5.05,-5.15,-5.18,-5.1,-5.12,-5.15,-5.2,-5.25,-5.2,-5.22,-5.25,-5.3,-5.32,-5.35,-5.3,-5.28,-5.25,-5.2,-5.08,-4.55,-4.48,-4.52,-4.45,-4.42,-4.38,-4.38,-4.25,-4.2,-4.5,-5.2,-5.28,-5.27,-5.3,-5.32,-5.33,-5.34,-5.35,-5.34,-5.36,-5.38,-5.36,-5.35,-5.38,-5.4,-5.38,-5.36,-5.35,-5.32,-5.15,-4.28,-4.22,-4.28,-4.3,-4.38,-4.4,-4.45,-4.55,-4.58,-4.8],
  [-4.48,-4.55,-4.3,-4.25,-4.4,-4.38,-4.35,-4.45,-4.55,-4.62,-5.1,-5.18,-5.2,-5.15,-5.2,-5.18,-5.25,-5.3,-5.25,-5.03,-5.3,-5.28,-5.25,-5.35,-5.3,-5.27,-5.28,-5.26,-5.25,-5.12,-4.58,-4.5,-4.55,-4.52,-4.4,-4.3,-4.25,-4.18,-4.2,-4.52,-5.18,-5.3,-5.32,-5.33,-5.35,-5.36,-5.37,-5.38,-5.38,-5.4,-5.42,-5.42,-5.42,-5.45,-5.44,-5.42,-5.42,-5.4,-5.38,-5.2,-4.25,-4.05,-4.25,-4.32,-4.35,-4.38,-4.42,-4.55,-4.6,-4.78],
  [-4.53,-4.45,-4.35,-4.2,-4.45,-4.4,-4.22,-4.5,-4.62,-4.6,-5.15,-5.22,-5.25,-5.28,-5.25,-5.22,-5.27,-5.3,-5.28,-5.32,-5.3,-5.3,-5.35,-5.3,-5.3,-5.35,-5.3,-5.3,-5.28,-5.15,-4.6,-4.52,-4.45,-4.48,-4.4,-4.35,-4.25,-4.2,-4.12,-4.5,-5.2,-5.32,-5.36,-5.38,-5.4,-5.4,-5.42,-5.42,-5.42,-5.44,-5.45,-5.45,-5.46,-5.48,-5.5,-5.46,-5.45,-5.44,-5.42,-5.25,-4.3,-4.25,-4.35,-4.37,-4.35,-4.4,-4.45,-4.5,-4.6,-4.72],
  [-4.4,-4.32,-4.32,-4.25,-4.35,-4.28,-4.12,-4.48,-4.58,-4.65,-5.18,-5.2,-5.22,-5.3,-5.28,-5.3,-5.32,-5.38,-5.3,-5.38,-5.4,-5.36,-5.37,-5.4,-5.36,-5.38,-5.4,-5.36,-5.32,-5.18,-4.62,-4.5,-4.35,-4.22,-4.2,-4.25,-4.2,-4.08,-4.15,-4.55,-5.22,-5.35,-5.4,-5.42,-5.44,-5.44,-5.45,-5.45,-5.46,-5.47,-5.5,-5.5,-5.5,-5.52,-5.5,-5.5,-5.5,-5.5,-5.5,-5.3,-4.35,-4.32,-4.35,-4.4,-4.38,-4.4,-4.48,-4.58,-4.65,-4.72],
  [-4.45,-4.3,-4.25,-4.2,-4.25,-4.25,-4.32,-4.55,-4.65,-4.72,-5.2,-5.3,-5.2,-5.25,-5.35,-5.42,-5.38,-5.52,-5.35,-5.47,-5.43,-5.4,-5.4,-5.38,-5.45,-5.4,-5.42,-5.4,-5.35,-5.2,-4.6,-4.52,-4.55,-4.6,-4.42,-4.4,-4.3,-4.12,-4.22,-4.55,-5.25,-5.4,-5.45,-5.47,-5.47,-5.47,-5.48,-5.5,-5.5,-5.5,-5.52,-5.55,-5.55,-5.55,-5.57,-5.58,-5.58,-5.57,-5.55,-5.3,-4.4,-4.36,-4.35,-4.38,-4.4,-4.4,-4.43,-4.52,-4.65,-4.78],
  [-4.47,-4.28,-4.25,-4.2,-4.32,-4.2,-4.3,-4.6,-4.7,-4.74,-5.12,-5.4,-5.4,-5.4,-5.38,-5.47,-5.44,-5.42,-5.4,-5.6,-5.46,-5.5,-5.45,-5.52,-5.5,-5.44,-5.46,-5.42,-5.38,-5.15,-4.68,-4.62,-4.65,-4.68,-4.7,-4.65,-4.45,-4.4,-4.38,-4.28,-5.3,-5.45,-5.48,-5.5,-5.5,-5.52,-5.52,-5.53,-5.55,-5.56,-5.58,-5.6,-5.6,-5.6,-5.6,-5.62,-5.63,-5.6,-5.6,-5.35,-4.45,-4.38,-4.37,-4.4,-4.45,-4.45,-4.45,-4.5,-4.62,-4.75],
  [-4.27,-4.3,-4.22,-4.2,-4.25,-4.25,-4.28,-4.45,-4.78,-4.72,-5.08,-5.22,-5.25,-5.18,-5.5,-5.42,-5.45,-5.4,-5.38,-5.44,-5.52,-5.45,-5.42,-5.44,-5.58,-5.52,-5.44,-5.48,-5.45,-5.18,-4.66,-4.6,-4.66,-4.68,-4.62,-4.45,-4.42,-4.35,-4.3,-4.48,-5.38,-5.52,-5.5,-5.56,-5.57,-5.53,-5.58,-5.6,-5.6,-5.62,-5.65,-5.66,-5.65,-5.7,-5.72,-5.7,-5.72,-5.65,-5.62,-5.4,-4.5,-4.48,-4.42,-4.5,-4.22,-4.42,-4.5,-4.58,-4.65,-4.55],
  [-4.35,-4.22,-4.2,-4.25,-4.08,-4.16,-4.25,-4.48,-4.8,-4.7,-5.1,-5.2,-5.22,-5.2,-5.6,-5.45,-5.65,-5.65,-5.57,-5.6,-5.66,-5.68,-5.6,-5.48,-5.52,-5.68,-5.58,-5.68,-5.55,-5.2,-4.6,-4.62,-4.68,-4.7,-4.6,-4.55,-4.7,-4.68,-4.45,-4.6,-5.57,-5.67,-5.64,-5.72,-5.75,-5.7,-5.69,-5.7,-5.68,-5.66,-5.75,-5.87,-5.78,-5.81,-5.86,-5.75,-5.87,-5.72,-5.67,-5.55,-4.61,-4.5,-4.47,-4.45,-4.5,-4.43,-4.48,-4.56,-4.62,-4.58],
];

const FONT = "'Liberation Sans', Arial, Helvetica, sans-serif";

type Segment = { from: number; to: number; text: string; fill: string; color: string };

const unsplicedBar: Segment[] = [{ from: 10, to: 30, text: "Unspliced gene", fill: "#000", color: "#fff" }];
const splicedBar: Segment[] = [
  { from: 10, to: 30, text: "Upstream exon", fill: "#000", color: "#fff" },
  { from: 30, to: 40, text: "Intron", fill: "#999", color: "#222" },
  { from: 40, to: 60, text: "Downstream exon", fill: "#000", color: "#fff" },
];

type PanelProps = {
  title: string;
  yLabel: string;
  yLabelX: number;
  series: number[][];
  box: [number, number, number, number];
  barTop: number;
  spliced: boolean;
  yDomain: [number, number];
  yTicks: number[];
  digits: number;
  polLines?: boolean;
};

function YTick(props: any) {
  const { x, y, payload, digits } = props;
  const tx = x - 1;
  return (
    <text x={tx} y={y} transform={`rotate(-90 ${tx} ${y})`} textAnchor="middle" fontSize={8} fill="#444" fontFamily={FONT}>
      {Number(payload.value).toFixed(digits)}
    </text>
  );
}

function Panel({ title, yLabel, yLabelX, series, box, barTop, spliced, yDomain, yTicks, digits, polLines }: PanelProps) {
  const [L, T, R, B] = box;
  const W = R - L;
  const H = B - T;
  const AX = 40;
  const AY = 28;
  const PAD = 14;
  const n = series[0].length;
  const xDomain: [number, number] = spliced ? [-1.76, 72.76] : [-0.56, 41.56];
  const xTicks = spliced ? xTicks70 : xTicks40;
  const dividers = spliced ? [10, 30, 40, 60] : [10, 30];
  const segments = spliced ? splicedBar : unsplicedBar;
  const sx = (v: number) => L + ((v - xDomain[0]) / (xDomain[1] - xDomain[0])) * W;

  const rows = Array.from({ length: n }, (_, i) => {
    const r: Record<string, number> = { x: i + 1 };
    series.forEach((s, k) => {
      r[`b${k}`] = s[i];
    });
    return r;
  });

  const barH = 20;
  const startX = sx(10);
  const endX = sx(spliced ? 60 : 30);

  return (
    <>
      <div style={{ position: "absolute", left: L - AX, top: T - PAD }}>
        <LineChart width={W + AX + PAD} height={H + AY + PAD} data={rows} margin={{ top: PAD, right: PAD, bottom: 0, left: 0 }}>
          <XAxis
            type="number"
            dataKey="x"
            domain={xDomain}
            ticks={xTicks}
            interval={0}
            allowDataOverflow
            axisLine={false}
            tickSize={4}
            tickMargin={3}
            tickLine={{ stroke: "#666" }}
            tick={{ fontSize: 8, fill: "#444", fontFamily: FONT }}
            height={AY}
          />
          <YAxis
            type="number"
            domain={yDomain}
            ticks={yTicks}
            interval={0}
            allowDataOverflow
            axisLine={false}
            width={AX}
            tickSize={4}
            tickMargin={4}
            tickLine={{ stroke: "#666" }}
            tick={(p: any) => <YTick {...p} digits={digits} />}
          />
          {dividers.map((d) => (
            <ReferenceLine key={d} x={d} stroke="#555" strokeWidth={1} />
          ))}
          {polLines && <ReferenceLine y={-0.65} stroke="#3b7bc4" strokeWidth={2} />}
          {polLines && <ReferenceLine y={-0.785} stroke="#1d4f7f" strokeWidth={1.6} strokeDasharray="2 2" />}
          {series.map((_, k) => (
            <Line
              key={k}
              type="linear"
              dataKey={`b${k}`}
              stroke={binColors[k]}
              strokeWidth={1}
              strokeOpacity={0.65}
              dot={{ r: 2.3, fill: binColors[k], stroke: "none" }}
              activeDot={false}
              isAnimationActive={false}
            />
          ))}
        </LineChart>
      </div>
      <div style={{ position: "absolute", left: L, top: T, width: W, height: H, border: "1px solid #8c8c8c", boxSizing: "border-box", pointerEvents: "none" }} />
      <div style={{ position: "absolute", left: L, top: T - 22, width: W, textAlign: "center", fontFamily: FONT, fontWeight: 700, fontSize: 10.5, lineHeight: "14px", color: "#111", whiteSpace: "nowrap" }}>
        {title}
      </div>
      <div
        style={{
          position: "absolute",
          left: yLabelX,
          top: (T + B) / 2,
          transform: "translate(-50%, -50%) rotate(-90deg)",
          fontFamily: FONT,
          fontWeight: 700,
          fontSize: 10,
          whiteSpace: "nowrap",
          color: "#111",
        }}
      >
        {yLabel}
      </div>
      <div style={{ position: "absolute", left: startX - 160, width: 154, top: barTop, height: barH, lineHeight: `${barH}px`, textAlign: "right", fontFamily: FONT, fontWeight: 700, fontSize: 8.5, color: "#222", whiteSpace: "nowrap" }}>
        Promoter (-400bp)
      </div>
      {segments.map((s) => (
        <div
          key={s.text}
          style={{
            position: "absolute",
            left: sx(s.from),
            width: sx(s.to) - sx(s.from),
            top: barTop,
            height: barH,
            background: s.fill,
            color: s.color,
            textAlign: "center",
            lineHeight: `${barH}px`,
            fontFamily: FONT,
            fontWeight: 700,
            fontSize: 11.5,
            whiteSpace: "nowrap",
          }}
        >
          {s.text}
        </div>
      ))}
      <div style={{ position: "absolute", left: endX + 6, top: barTop + 1, height: barH, lineHeight: `${barH}px`, fontFamily: FONT, fontWeight: 700, fontSize: 8.5, color: "#222", whiteSpace: "nowrap" }}>
        Terminator (+400bp)
      </div>
    </>
  );
}

function PanelLabel({ text, top }: { text: string; top: number }) {
  return <div style={{ position: "absolute", left: 8, top, fontFamily: FONT, fontWeight: 700, fontSize: 16, color: "#111" }}>{text}</div>;
}

export default function App() {
  return (
    <div style={{ position: "absolute", left: 0, top: 0, width: 1200, height: 1480, background: "#fff", fontFamily: FONT }}>
      <PanelLabel text="(a)" top={17} />
      <Panel title="RNA Pol II ChIP signal across average unspliced gene" yLabel="RNA Pol II ChIP signal" yLabelX={35} series={polUnspliced} box={[68, 47, 476, 287]} barTop={310} spliced={false} yDomain={[-0.807, 0.494]} yTicks={polTicks} digits={1} polLines />
      <Panel title="RNA Pol II ChIP across average spliced gene" yLabel="RNA Pol II ChIP signal" yLabelX={551} series={polSpliced} box={[585, 46, 1181, 286]} barTop={310} spliced yDomain={[-0.89, 0.49]} yTicks={polTicks} digits={1} polLines />

      <PanelLabel text="(b)" top={345} />
      <Panel title="H3 ChIP signal across average unspliced gene" yLabel="H3 ChIP signal" yLabelX={35} series={h3Unspliced} box={[68, 373, 475, 619]} barTop={639} spliced={false} yDomain={[-0.353, 0.013]} yTicks={h3Ticks} digits={2} />
      <Panel title="H3 ChIP across average spliced gene" yLabel="H3 ChIP signal" yLabelX={549} series={h3Spliced} box={[583, 373, 1182, 614]} barTop={638} spliced yDomain={[-0.357, 0.002]} yTicks={h3Ticks} digits={2} />

      <PanelLabel text="(c)" top={698} />
      <Panel title="H3K36(me)3 ChIP signal across average unspliced gene" yLabel="H3K36(me)3 ChIP signal" yLabelX={39} series={k36Unspliced} box={[71, 728, 480, 969]} barTop={995} spliced={false} yDomain={[-0.522, 0.208]} yTicks={k36TicksU} digits={1} />
      <Panel title="H3K36(me)3 across average spliced gene" yLabel="H3K36(me)3 ChIP signal" yLabelX={549} series={k36Spliced} box={[587, 728, 1180, 969]} barTop={995} spliced yDomain={[-0.485, 0.268]} yTicks={k36TicksS} digits={1} />

      <PanelLabel text="(d)" top={1042} />
      <Panel title="FAIRE signal across average unspliced gene" yLabel="FAIRE signal" yLabelX={42} series={faireUnspliced} box={[72, 1073, 478, 1314]} barTop={1339} spliced={false} yDomain={[-5.91, -3.986]} yTicks={faireTicks} digits={1} />
      <Panel title="FAIRE signal across average spliced gene" yLabel="FAIRE signal" yLabelX={555} series={faireSpliced} box={[587, 1072, 1180, 1313]} barTop={1338} spliced yDomain={[-5.94, -3.886]} yTicks={faireTicks} digits={1} />

      <div style={{ position: "absolute", left: 411, top: 1413, fontWeight: 700, fontSize: 12, color: "#111" }}>Low</div>
      <div style={{ position: "absolute", left: 610, width: 100, textAlign: "right", top: 1413, fontWeight: 700, fontSize: 12, color: "#111" }}>High</div>
      <div style={{ position: "absolute", left: 411, top: 1437, display: "flex" }}>
        {binColors.map((c) => (
          <div key={c} style={{ width: 29.9, height: 12, background: c }} />
        ))}
      </div>
      <div style={{ position: "absolute", left: 460, width: 200, textAlign: "center", top: 1459, fontWeight: 700, fontSize: 12, color: "#111" }}>Expression bin</div>
    </div>
  );
}
